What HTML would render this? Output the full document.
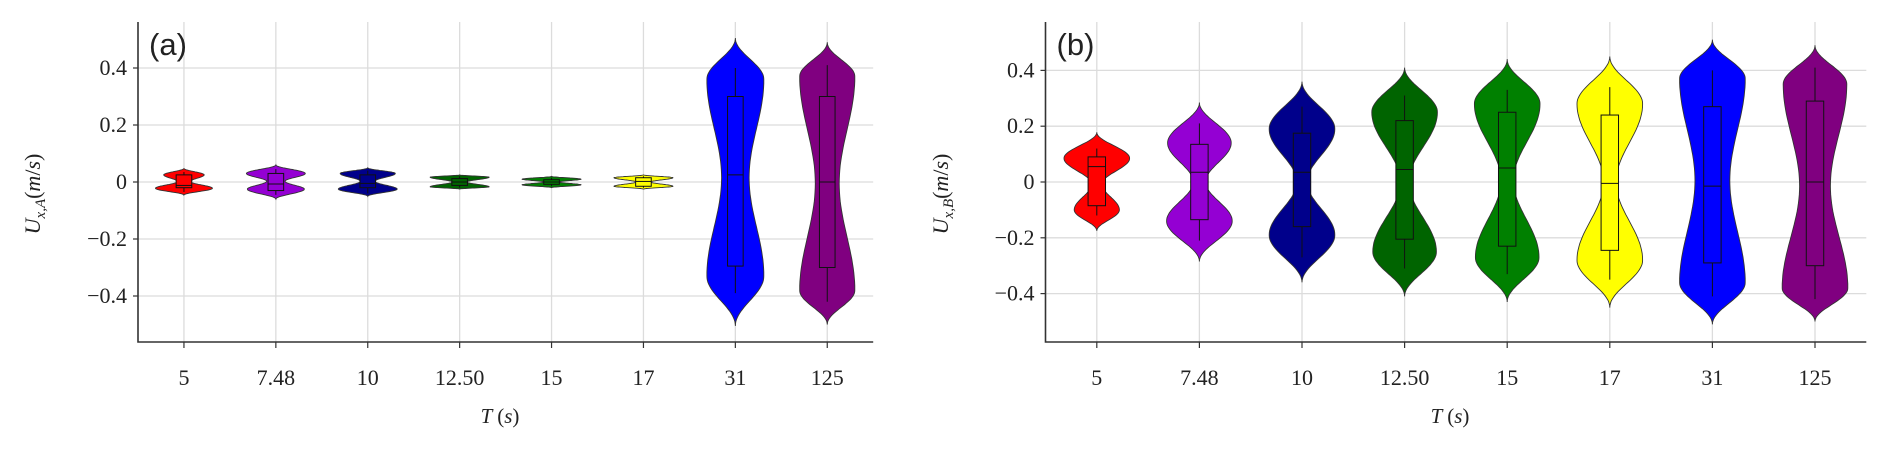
<!DOCTYPE html>
<html><head><meta charset="utf-8">
<style>
html,body{margin:0;padding:0;background:#fff;}
svg{display:block;}
text{font-family:"Liberation Serif",serif;fill:#222;}
</style></head>
<body>
<svg id="chart" width="1892" height="449" viewBox="0 0 1892 449" xmlns="http://www.w3.org/2000/svg"></svg>
<script>
const categories = ["5","7.48","10","12.50","15","17","31","125"];
const colors = ["#ff0000","#9400d3","#00008b","#006400","#008000","#ffff00","#0000ff","#800080"];
const yTicks = [0.4,0.2,0,-0.2,-0.4];
const yTickLabels = ["0.4","0.2","0","\u22120.2","\u22120.4"];
// Panel A: violin ends, density peaks, waist, box stats
const aHi    = [0.048,0.06,0.05,0.025,0.02,0.025,0.505,0.49];
const aLo    = [-0.046,-0.06,-0.05,-0.025,-0.02,-0.025,-0.505,-0.5];
const aUpPk  = [0.025,0.03,0.03,0.017,0.01,0.015,0.36,0.37];
const aLoPk  = [-0.022,-0.025,-0.025,-0.017,-0.01,-0.015,-0.33,-0.38];
const aUpW   = [0.22,0.32,0.3,0.32,0.32,0.32,0.31,0.3];
const aLoW   = [0.31,0.31,0.32,0.32,0.32,0.32,0.31,0.3];
const aWaist = [0.07,0.1,0.08,0.08,0.08,0.08,0.15,0.13];
const aQ3    = [0.025,0.03,0.025,0.012,0.008,0.015,0.30,0.30];
const aQ1    = [-0.02,-0.03,-0.02,-0.012,-0.008,-0.015,-0.295,-0.30];
const aMed   = [-0.012,-0.007,-0.005,0,0,0.002,0.025,0.0];
const aWhHi  = [0.035,0.045,0.04,0.02,0.015,0.02,0.40,0.41];
const aWhLo  = [-0.035,-0.045,-0.04,-0.02,-0.015,-0.02,-0.39,-0.42];
// Panel B
const bHi    = [0.178,0.285,0.36,0.41,0.44,0.45,0.51,0.49];
const bLo    = [-0.175,-0.285,-0.36,-0.41,-0.43,-0.45,-0.51,-0.5];
const bUpPk  = [0.085,0.14,0.19,0.25,0.28,0.28,0.37,0.35];
const bLoPk  = [-0.1,-0.14,-0.19,-0.25,-0.27,-0.28,-0.36,-0.38];
const bUpW   = [0.32,0.31,0.32,0.32,0.32,0.32,0.32,0.31];
const bLoW   = [0.22,0.32,0.32,0.31,0.31,0.32,0.32,0.32];
const bWaist = [0.05,0.06,0.05,0.04,0.06,0.06,0.17,0.15];
const bQ3    = [0.09,0.135,0.175,0.22,0.25,0.24,0.27,0.29];
const bQ1    = [-0.085,-0.135,-0.16,-0.205,-0.23,-0.245,-0.29,-0.30];
const bMed   = [0.055,0.035,0.035,0.045,0.05,-0.005,-0.015,0.0];
const bWhHi  = [0.12,0.21,0.27,0.31,0.33,0.34,0.40,0.41];
const bWhLo  = [-0.12,-0.21,-0.27,-0.31,-0.33,-0.35,-0.41,-0.42];

const NS="http://www.w3.org/2000/svg";
const svg=document.getElementById('chart');
function mk(tag,attrs,parent){const e=document.createElementNS(NS,tag);for(const k in attrs)e.setAttribute(k,attrs[k]);(parent||svg).appendChild(e);return e;}

function panel(cfg,d){
  const g=mk('g',{});
  
  
  const x=i=>cfg.x0+cfg.dx*(i+0.5);
  const y=v=>cfg.y0-v*cfg.sy;
  const left=cfg.x0, right=cfg.x0+cfg.dx*categories.length, top=22, bottom=342;
  categories.forEach((c,i)=>{
    const l=mk('line',{x1:x(i),x2:x(i),y1:top,y2:bottom,stroke:'#dcdcdc','stroke-width':1.3},g);
    
    
  });
  yTicks.forEach((t,i)=>{
    const l=mk('line',{x1:left,x2:right,y1:y(t),y2:y(t),stroke:'#dcdcdc','stroke-width':1.3},g);
    
    
    const tk=mk('line',{x1:left-5,x2:left,y1:y(t),y2:y(t),stroke:'#333','stroke-width':1.2},g);
    
    
    const tx=mk('text',{x:left-11,y:y(t)+7,'text-anchor':'end','font-size':22},g);
    tx.textContent=yTickLabels[i];
    
    
  });
  categories.forEach((c,i)=>{
    const cx=x(i);
    const pts=[[d.lo[i],0],[d.loPk[i],d.loW[i]],[(d.loPk[i]+d.upPk[i])/2,d.waist[i]],[d.upPk[i],d.upW[i]],[d.hi[i],0]];
    const prof=[];
    for(let s=0;s<pts.length-1;s++){
      const [v0,w0]=pts[s],[v1,w1]=pts[s+1];
      for(let k=0;k<=24;k++){
        const t=k/24, e=(1-Math.cos(Math.PI*t))/2;
        prof.push([v0+(v1-v0)*t, w0+(w1-w0)*e]);
      }
    }
    let dd='';
    prof.forEach((p,k)=>{dd+=(k?'L':'M')+(cx+p[1]*cfg.dx).toFixed(1)+','+y(p[0]).toFixed(1);});
    for(let k=prof.length-1;k>=0;k--){const p=prof[k];dd+='L'+(cx-p[1]*cfg.dx).toFixed(1)+','+y(p[0]).toFixed(1);}
    dd+='Z';
    const vg=mk('g',{},g);
    
    
    const vp=mk('path',{d:dd,fill:colors[i],stroke:'#333','stroke-width':0.9},vg);
    
    
    const bw=cfg.dx*0.085;
    const wl=mk('line',{x1:cx,x2:cx,y1:y(d.whHi[i]),y2:y(d.whLo[i]),stroke:'#111','stroke-width':1},vg);
    
    
    const bx=mk('rect',{x:cx-bw,y:y(d.q3[i]),width:2*bw,height:y(d.q1[i])-y(d.q3[i]),fill:colors[i],stroke:'#111','stroke-width':1},vg);
    
    
    const md=mk('line',{x1:cx-bw,x2:cx+bw,y1:y(d.med[i]),y2:y(d.med[i]),stroke:'#111','stroke-width':1},vg);
    
    
    const tk=mk('line',{x1:cx,x2:cx,y1:bottom,y2:bottom+6,stroke:'#333','stroke-width':1.2},g);
    
    
    const tx=mk('text',{x:cx,y:385,'text-anchor':'middle','font-size':22},g);
    tx.textContent=c;
    
    
  });
  const sp=mk('path',{d:`M${left},${top}L${left},${bottom}L${right},${bottom}`,fill:'none',stroke:'#333','stroke-width':1.6},g);
  
  
  const pl=mk('text',{x:left+11,y:55,'font-size':31},g);
  pl.style.fontFamily='"Liberation Sans",sans-serif';
  pl.textContent=cfg.letter;
  
  
  const xl=mk('text',{x:cfg.xlx,y:423,'text-anchor':'middle','font-size':21,'font-style':'italic'},g);
  xl.innerHTML='T <tspan font-style="normal">(</tspan>s<tspan font-style="normal">)</tspan>';
  
  
  const yl=mk('text',{x:0,y:0,'text-anchor':'middle','font-size':22,'font-style':'italic',transform:`translate(${cfg.ylx},194) rotate(-90)`},g);
  yl.innerHTML='U<tspan font-size="15" dy="5">x,'+cfg.sub+'</tspan><tspan dy="-5" font-style="normal">(</tspan>m<tspan font-style="normal">/</tspan>s<tspan font-style="normal">)</tspan>';
  
  
}
panel({name:'panel-a',x0:138,dx:91.9,y0:182,sy:285,letter:'(a)',xlx:500,ylx:40,sub:'A'},
  {hi:aHi,lo:aLo,upPk:aUpPk,loPk:aLoPk,upW:aUpW,loW:aLoW,waist:aWaist,q3:aQ3,q1:aQ1,med:aMed,whHi:aWhHi,whLo:aWhLo});
panel({name:'panel-b',x0:1045.5,dx:102.6,y0:182,sy:279,letter:'(b)',xlx:1450,ylx:948,sub:'B'},
  {hi:bHi,lo:bLo,upPk:bUpPk,loPk:bLoPk,upW:bUpW,loW:bLoW,waist:bWaist,q3:bQ3,q1:bQ1,med:bMed,whHi:bWhHi,whLo:bWhLo});
</script>
</body></html>
